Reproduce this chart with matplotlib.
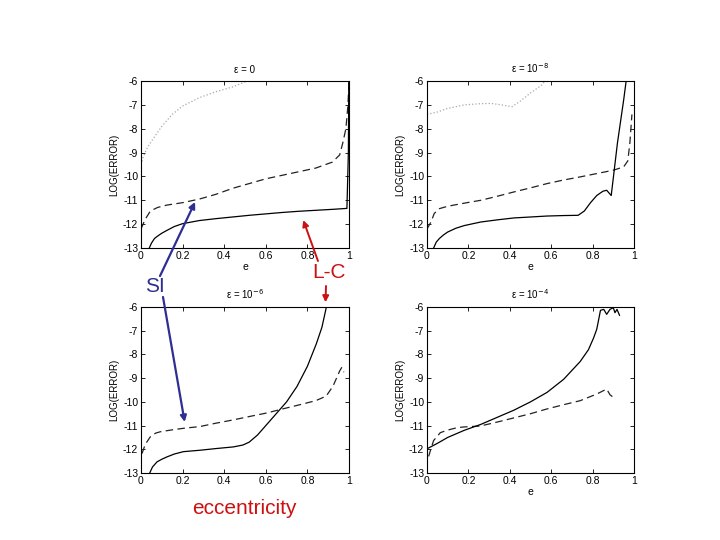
import matplotlib
matplotlib.use("Agg")
import matplotlib.pyplot as plt

plt.rcParams['font.family'] = ['Liberation Sans', 'DejaVu Sans']
plt.rcParams['axes.unicode_minus'] = False

# eps = 0
tl_dot_e = [0.0, 0.01, 0.03, 0.06, 0.1, 0.15, 0.2, 0.28, 0.36, 0.44, 0.51]
tl_dot_y = [-9.5, -9.2, -8.8, -8.4, -7.9, -7.4, -7.05, -6.7, -6.45, -6.25, -6.0]
tl_dash_e = [0.0, 0.02, 0.045, 0.08, 0.125, 0.2, 0.28, 0.36, 0.44, 0.52, 0.6,
             0.68, 0.76, 0.84, 0.92, 0.955, 0.97, 0.985, 0.995, 1.0]
tl_dash_y = [-12.2, -11.8, -11.45, -11.3, -11.2, -11.1, -10.95, -10.75, -10.5,
             -10.3, -10.1, -9.95, -9.8, -9.65, -9.4, -9.1, -8.6, -8.0, -7.0, -6.0]
tl_sol_e = [0.04, 0.05, 0.065, 0.08, 0.1, 0.125, 0.16, 0.2, 0.28, 0.36, 0.44,
            0.52, 0.6, 0.68, 0.76, 0.84, 0.92, 0.99, 0.997, 0.999]
tl_sol_y = [-13.0, -12.8, -12.6, -12.5, -12.38, -12.26, -12.1, -11.98, -11.85,
            -11.77, -11.7, -11.63, -11.57, -11.51, -11.46, -11.42, -11.38,
            -11.34, -9.0, -6.0]

# eps = 1e-8
tr_dot_e = [0.0, 0.05, 0.1, 0.18, 0.26, 0.31, 0.36, 0.41, 0.45, 0.5, 0.55, 0.57]
tr_dot_y = [-7.4, -7.3, -7.15, -7.0, -6.95, -6.94, -7.0, -7.08, -6.85, -6.5, -6.2, -6.0]
tr_dash_e = [0.0, 0.02, 0.035, 0.06, 0.1, 0.18, 0.26, 0.34, 0.42, 0.5, 0.58,
             0.66, 0.74, 0.82, 0.9, 0.95, 0.97, 0.98, 0.99]
tr_dash_y = [-12.2, -11.9, -11.55, -11.35, -11.25, -11.12, -11.0, -10.83,
             -10.65, -10.48, -10.3, -10.15, -10.02, -9.88, -9.74, -9.6, -9.35,
             -8.6, -7.4]
tr_sol_e = [0.032, 0.045, 0.06, 0.08, 0.1, 0.14, 0.18, 0.26, 0.34, 0.42, 0.5,
            0.58, 0.66, 0.73, 0.76, 0.79, 0.82, 0.85, 0.868, 0.88, 0.89, 0.92,
            0.95, 0.962]
tr_sol_y = [-13.0, -12.75, -12.6, -12.45, -12.33, -12.17, -12.06, -11.91,
            -11.82, -11.74, -11.7, -11.66, -11.64, -11.63, -11.45, -11.1, -10.8,
            -10.62, -10.58, -10.7, -10.8, -8.6, -6.8, -6.0]

# eps = 1e-6
bl_dash_e = [0.005, 0.02, 0.045, 0.07, 0.093, 0.15, 0.2, 0.284, 0.36, 0.444,
             0.52, 0.604, 0.68, 0.764, 0.84, 0.89, 0.923, 0.955, 0.965, 0.975]
bl_dash_y = [-12.18, -11.8, -11.47, -11.32, -11.26, -11.18, -11.12, -11.04,
             -10.9, -10.76, -10.62, -10.47, -10.3, -10.12, -9.95, -9.76, -9.34,
             -8.7, -8.55, -8.75]
bl_sol_e = [0.042, 0.055, 0.077, 0.1, 0.125, 0.16, 0.204, 0.284, 0.36, 0.444,
            0.49, 0.52, 0.56, 0.6, 0.66, 0.7, 0.75, 0.8, 0.843, 0.87, 0.89]
bl_sol_y = [-13.0, -12.75, -12.53, -12.42, -12.32, -12.2, -12.1, -12.04,
            -11.97, -11.9, -11.82, -11.7, -11.4, -11.0, -10.4, -10.0, -9.35,
            -8.5, -7.55, -6.85, -6.05]

# eps = 1e-4
br_sol_e = [0.0, 0.05, 0.1, 0.18, 0.26, 0.34, 0.42, 0.5, 0.58, 0.66, 0.74,
            0.78, 0.805, 0.82, 0.828, 0.838, 0.854, 0.868, 0.884, 0.9, 0.908,
            0.918, 0.93]
br_sol_y = [-11.98, -11.75, -11.5, -11.2, -10.95, -10.65, -10.35, -10.0, -9.6,
            -9.05, -8.3, -7.8, -7.3, -6.94, -6.59, -6.14, -6.1, -6.31, -6.1,
            -6.03, -6.24, -6.1, -6.35]
br_dash_e = [0.008, 0.02, 0.032, 0.05, 0.064, 0.09, 0.113, 0.15, 0.193, 0.257,
             0.34, 0.418, 0.5, 0.579, 0.66, 0.74, 0.82, 0.868, 0.884, 0.9]
br_dash_y = [-12.3, -11.95, -11.63, -11.45, -11.3, -11.22, -11.16, -11.08,
             -11.05, -11.02, -10.85, -10.68, -10.5, -10.3, -10.12, -9.95,
             -9.67, -9.46, -9.7, -9.81]

titles = ['ε = 0', 'ε = 10$^{-8}$', 'ε = 10$^{-6}$', 'ε = 10$^{-4}$']
xticks = [0, 0.2, 0.4, 0.6, 0.8, 1]
xticklabels = ['0', '0.2', '0.4', '0.6', '0.8', '1']
yticks = [-6, -7, -8, -9, -10, -11, -12, -13]

fig = plt.figure(figsize=(7.2, 5.4), dpi=100)
W, H = 720.0, 540.0


def make_ax(left, top, right, bottom):
    return fig.add_axes([left / W, 1 - bottom / H, (right - left) / W, (bottom - top) / H])


ax_tl = make_ax(141, 81, 349, 248)
ax_tr = make_ax(427, 81, 634, 248)
ax_bl = make_ax(141, 307, 349, 473)
ax_br = make_ax(427, 307, 634, 473)
axes = [ax_tl, ax_tr, ax_bl, ax_br]

lw = 0.9
ax_tl.plot(tl_dot_e, tl_dot_y, ':', color='#a8a8a8', lw=lw)
ax_tl.plot(tl_dash_e, tl_dash_y, '--', color='#222222', lw=lw, dashes=(6, 3.5))
ax_tl.plot(tl_sol_e, tl_sol_y, '-', color='black', lw=lw)

ax_tr.plot(tr_dot_e, tr_dot_y, ':', color='#a8a8a8', lw=lw)
ax_tr.plot(tr_dash_e, tr_dash_y, '--', color='#222222', lw=lw, dashes=(6, 3.5))
ax_tr.plot(tr_sol_e, tr_sol_y, '-', color='black', lw=lw)

ax_bl.plot(bl_dash_e, bl_dash_y, '--', color='#222222', lw=lw, dashes=(6, 3.5))
ax_bl.plot(bl_sol_e, bl_sol_y, '-', color='black', lw=lw)

ax_br.plot(br_dash_e, br_dash_y, '--', color='#222222', lw=lw, dashes=(6, 3.5))
ax_br.plot(br_sol_e, br_sol_y, '-', color='black', lw=lw)

for ax, t in zip(axes, titles):
    ax.set_xlim(0, 1)
    ax.set_ylim(-13, -6)
    ax.set_xticks(xticks)
    ax.set_xticklabels(xticklabels)
    ax.set_yticks(yticks)
    ax.tick_params(direction='in', top=True, right=True, labelsize=7.5,
                   length=3, width=0.6, pad=2)
    ax.set_title(t, fontsize=7, pad=6)
    ax.set_ylabel('LOG(ERROR)', fontsize=7, labelpad=3)
    ax.patch.set_facecolor('none')
    for s in ax.spines.values():
        s.set_linewidth(0.8)

for ax in [ax_tl, ax_tr, ax_br]:
    ax.set_xlabel('e', fontsize=7.5, labelpad=1)

blue = '#2e2e94'
red = '#cc1111'
fig.text(155 / W, 1 - 287 / H, 'SI', color=blue, fontsize=15, ha='center', va='center')
fig.text(329 / W, 1 - 272 / H, 'L-C', color=red, fontsize=15, ha='center', va='center')
fig.text(244 / W, 1 - 508 / H, 'eccentricity', color=red, fontsize=15, ha='center', va='center')

ap_blue = dict(arrowstyle='-|>', color=blue, lw=1.6, mutation_scale=9, shrinkA=0, shrinkB=0)
ap_red = dict(arrowstyle='-|>', color=red, lw=1.4, mutation_scale=9, shrinkA=0, shrinkB=0)
ax_tl.annotate('', xy=(0.26, -11.07), xytext=(160, H - 276), textcoords='figure pixels',
               arrowprops=ap_blue, annotation_clip=False)
ax_bl.annotate('', xy=(0.21, -10.85), xytext=(163, H - 297), textcoords='figure pixels',
               arrowprops=ap_blue, annotation_clip=False)
ax_tl.annotate('', xy=(0.78, -11.83), xytext=(318, H - 261), textcoords='figure pixels',
               arrowprops=ap_red, annotation_clip=False)
ax_bl.annotate('', xy=(0.887, -5.8), xytext=(326, H - 286), textcoords='figure pixels',
               arrowprops=ap_red, annotation_clip=False)

fig.savefig('out.png', dpi=100)
